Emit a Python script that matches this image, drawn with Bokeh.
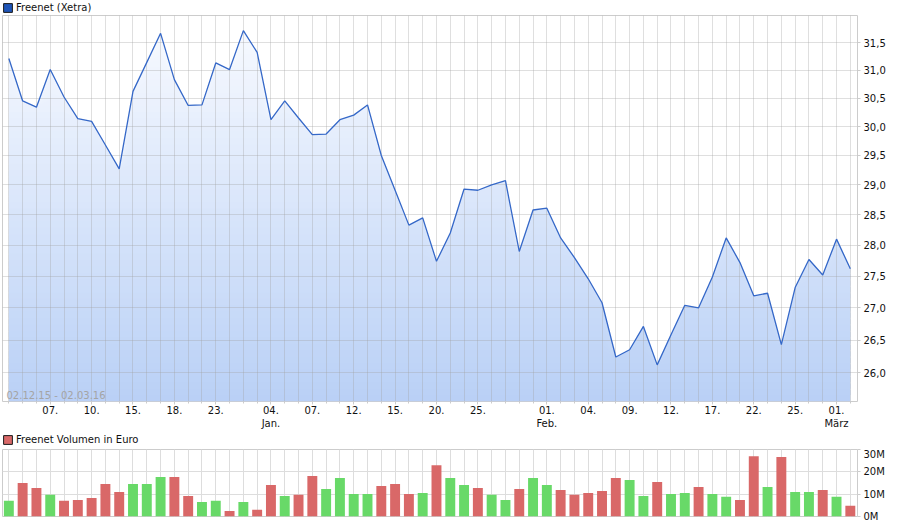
import numpy as np
from bokeh.plotting import figure
from bokeh.layouts import column
from bokeh.models import (Range1d, FixedTicker, CustomJSTickFormatter, Legend,
                          LegendItem, Label, ColumnDataSource)
from bokeh.embed import file_html
from bokeh.resources import INLINE

# ---------------- data ----------------
trading_days = [
    "02.12.", "03.12.", "04.12.", "07.12.", "08.12.", "09.12.", "10.12.", "11.12.",
    "14.12.", "15.12.", "16.12.", "17.12.", "18.12.", "21.12.", "22.12.", "23.12.",
    "28.12.", "29.12.", "30.12.",
    "04.01.", "05.01.", "06.01.", "07.01.", "08.01.", "11.01.", "12.01.", "13.01.",
    "14.01.", "15.01.", "18.01.", "19.01.", "20.01.", "21.01.", "22.01.", "25.01.",
    "26.01.", "27.01.", "28.01.", "29.01.",
    "01.02.", "02.02.", "03.02.", "04.02.", "05.02.", "08.02.", "09.02.", "10.02.",
    "11.02.", "12.02.", "15.02.", "16.02.", "17.02.", "18.02.", "19.02.", "22.02.",
    "23.02.", "24.02.", "25.02.", "26.02.", "29.02.",
    "01.03.", "02.03.",
]

price = [
    31.21, 30.45, 30.34, 31.01, 30.52, 30.14, 30.09, 29.68, 29.27, 30.62,
    31.14, 31.67, 30.83, 30.37, 30.38, 31.13, 31.01, 31.72, 31.32, 30.12,
    30.45, 30.15, 29.86, 29.87, 30.12, 30.20, 30.38, 29.50, 28.91, 28.33,
    28.45, 27.74, 28.20, 28.93, 28.91, 29.00, 29.07, 27.90, 28.58, 28.61,
    28.12, 27.80, 27.46, 27.08, 26.24, 26.35, 26.71, 26.12, 26.58, 27.04,
    27.00, 27.49, 28.12, 27.72, 27.19, 27.23, 26.43, 27.32, 27.77, 27.52,
    28.10, 27.62,
]

volume_mio = [
    7.0, 15.0, 12.8, 9.7, 7.0, 7.4, 8.3, 14.6, 11.0, 14.6,
    14.6, 17.7, 17.7, 9.2, 6.5, 7.0, 2.5, 6.5, 3.0, 14.1,
    9.2, 9.7, 18.1, 12.3, 17.2, 10.1, 10.1, 13.7, 14.6, 10.1,
    10.5, 23.0, 17.2, 14.1, 12.8, 9.7, 7.4, 12.3, 17.2, 14.1,
    11.9, 9.7, 10.5, 11.4, 17.2, 16.3, 9.2, 15.4, 10.1, 10.5,
    13.2, 10.1, 8.8, 7.4, 27.0, 13.2, 26.6, 11.0, 11.0, 11.9,
    8.8, 4.8,
]

# G = up day (green bar), R = down day (red bar)
direction = list(
    "GRRGRRRRRG"
    "GGRRGGRGRR"
    "GRRGGGGRRR"
    "GRGGRGGRGG"
    "RRRRRGGRGG"
    "RGGRRGRGGR"
    "GR"
)

tick_idx = [3, 6, 9, 12, 15, 19, 22, 25, 28, 31, 34, 39, 42, 45, 48, 51, 54, 57, 60]
tick_labels = ["07.", "10.", "15.", "18.", "23.", "04.\nJan.", "07.", "12.", "15.",
               "20.", "25.", "01.\nFeb.", "04.", "09.", "12.", "17.", "22.", "25.",
               "01.\nMärz"]
price_ticks = [26.0, 26.5, 27.0, 27.5, 28.0, 28.5, 29.0, 29.5, 30.0, 30.5, 31.0, 31.5]
volume_ticks = [0, 10, 20, 30]
price_label = "Freenet (Xetra)"
volume_label = "Freenet Volumen in Euro"
date_range = "02.12.15 - 02.03.16"

# ---------------- styling ----------------
FONT = "DejaVu Sans"
FS = "10px"
LINE_COLOR = "#3568c8"
GRID = "#a0a0a0"
RED = "#d96868"
GREEN = "#68d968"
OUTLINE = "#cccccc"
FW = 855
H1 = 386
H2 = 67

n = len(price)
x = np.arange(n)
xr = Range1d(-0.46, n - 1 + 0.52)
lo, hi = 25.57, 32.0


def header(label, fill, h):
    hp = figure(frame_width=FW, frame_height=h, x_range=Range1d(0, 1),
                y_range=Range1d(0, 1), output_backend="svg", toolbar_location=None,
                min_border=0, min_border_left=2, min_border_right=29)
    hp.axis.visible = False
    hp.grid.visible = False
    hp.outline_line_color = None
    hp.background_fill_color = "white"
    hp.border_fill_color = "white"
    # legend key only: a glyph with no drawable position
    key = ColumnDataSource(dict(l=[np.nan], r=[np.nan], t=[np.nan], b=[np.nan]))
    r = hp.quad(left="l", right="r", top="t", bottom="b", source=key,
                fill_color=fill, line_color="#1a1a1a", line_width=1)
    hp.add_layout(Legend(items=[LegendItem(label=label, renderers=[r])],
                         orientation="horizontal", location="left", margin=0,
                         padding=1, spacing=0, border_line_color=None,
                         background_fill_alpha=0, glyph_width=11, glyph_height=11,
                         label_standoff=3, label_text_font=FONT,
                         label_text_font_size=FS, label_height=12,
                         label_text_color="#111111"))
    return hp


# ---------------- price chart ----------------
h1 = header(price_label, "#1f55b8", 15)

p1 = figure(frame_width=FW, frame_height=H1, x_range=xr, y_range=Range1d(lo, hi),
            y_axis_type="log", y_axis_location="right", output_backend="svg",
            toolbar_location=None, min_border=0, min_border_left=2,
            min_border_right=0, min_border_top=0, min_border_bottom=0)
p1.background_fill_color = "white"
p1.border_fill_color = "white"
p1.outline_line_color = OUTLINE

# gradient fill under the price line, built from stacked bands
pr = np.array(price)
nb = 60
edges = np.exp(np.linspace(np.log(lo), np.log(hi), nb + 1))
c_bot = np.array([185, 208, 246])
c_top = np.array([249, 251, 255])
for k in range(nb):
    t = (k + 0.5) / nb
    c = c_bot + (c_top - c_bot) * t
    col = "#%02x%02x%02x" % tuple(int(round(v)) for v in c)
    y1 = np.minimum(pr, edges[k])
    y2 = np.minimum(pr, edges[k + 1] * 1.003)
    r = p1.varea(x=x, y1=y1, y2=y2, fill_color=col)
    r.level = "image"

p1.line(x, price, line_color=LINE_COLOR, line_width=1.3)

p1.xgrid.ticker = FixedTicker(ticks=list(range(n)))
p1.ygrid.ticker = FixedTicker(ticks=price_ticks)
for g in (p1.xgrid, p1.ygrid):
    g.grid_line_color = GRID
    g.grid_line_alpha = 0.34
    g.grid_line_width = 1

p1.yaxis.ticker = FixedTicker(ticks=price_ticks)
p1.yaxis.formatter = CustomJSTickFormatter(code="return tick.toFixed(1).replace('.', ',');")
p1.xaxis.ticker = FixedTicker(ticks=tick_idx, minor_ticks=list(range(n)))
p1.xaxis.major_label_overrides = {int(i): lab for i, lab in zip(tick_idx, tick_labels)}
for ax in (p1.xaxis, p1.yaxis):
    ax.axis_line_color = None
    ax.major_tick_in = 0
    ax.major_tick_out = 3
    ax.minor_tick_in = 0
    ax.minor_tick_out = 2
    ax.major_tick_line_color = OUTLINE
    ax.minor_tick_line_color = OUTLINE
    ax.major_label_text_font = FONT
    ax.major_label_text_font_size = FS
    ax.major_label_text_color = "#111111"
    ax.major_label_standoff = 3
p1.xaxis.major_label_standoff = 0
p1.yaxis.minor_tick_line_color = None

p1.add_layout(Label(x=xr.start, y=lo, x_offset=4, y_offset=1, text=date_range,
                    text_font=FONT, text_font_size=FS, text_color="#a4a4a4",
                    text_baseline="bottom", text_align="left"))

# ---------------- volume chart ----------------
h2 = header(volume_label, RED, 17)

p2 = figure(frame_width=FW, frame_height=H2, x_range=xr, y_range=Range1d(0, 30),
            y_axis_location="right", output_backend="svg", toolbar_location=None,
            min_border=0, min_border_left=2, min_border_top=1, min_border_bottom=6)
p2.background_fill_color = "white"
p2.border_fill_color = "white"
p2.outline_line_color = OUTLINE

bar_colors = [GREEN if d == "G" else RED for d in direction]
src = ColumnDataSource(dict(x=x, top=volume_mio, color=bar_colors))
p2.vbar(x="x", top="top", width=0.72, fill_color="color", line_color=None, source=src)

p2.xaxis.visible = False
p2.xgrid.ticker = FixedTicker(ticks=list(range(n)))
p2.ygrid.ticker = FixedTicker(ticks=volume_ticks)
for g in (p2.xgrid, p2.ygrid):
    g.grid_line_color = "#dddddd"
    g.grid_line_width = 1

p2.yaxis.ticker = FixedTicker(ticks=volume_ticks)
p2.yaxis.formatter = CustomJSTickFormatter(code="return tick.toFixed(0) + 'M';")
p2.yaxis.axis_line_color = None
p2.yaxis.major_tick_in = 0
p2.yaxis.major_tick_out = 3
p2.yaxis.major_tick_line_color = OUTLINE
p2.yaxis.minor_tick_line_color = None
p2.yaxis.major_label_text_font = FONT
p2.yaxis.major_label_text_font_size = FS
p2.yaxis.major_label_text_color = "#111111"
p2.yaxis.major_label_standoff = 3

layout = column(h1, p1, h2, p2, spacing=0)
open("out.html", "w").write(file_html(layout, INLINE))
